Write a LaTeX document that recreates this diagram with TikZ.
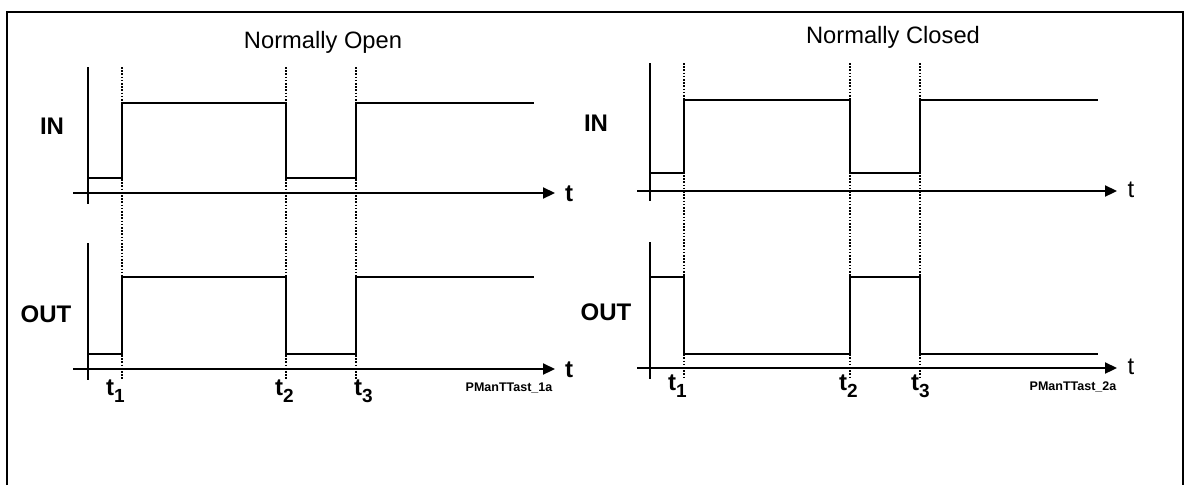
\documentclass[tikz,border=0pt]{standalone}
\usepackage{fontspec}
\setmainfont{Liberation Sans}
\usetikzlibrary{arrows.meta}

\newcommand{\tsub}[1]{t\raisebox{-7pt}{\fontsize{19}{19}\selectfont #1}}

\tikzset{
  frame/.style={line width=1.6pt},
  axis/.style={line width=2.2pt},
  timeaxis/.style={line width=2.2pt, -{Triangle[length=12pt,width=11pt]}},
  signal/.style={line width=1.8pt},
  marker/.style={line width=1.6pt, dash pattern=on 1.6pt off 1.6pt},
  title/.style={font=\fontsize{23.7}{25}\selectfont},
  signame/.style={font=\fontsize{24}{25}\selectfont\bfseries},
  tick/.style={font=\fontsize{24}{25}\selectfont\bfseries, inner sep=0pt, anchor=base west},
  tname/.style={font=\fontsize{24}{25}\selectfont, inner sep=0pt},
  figid/.style={font=\fontsize{12.5}{13}\selectfont\bfseries, inner sep=0pt}
}

\begin{document}
\begin{tikzpicture}[x=1pt,y=-1pt]
  \useasboundingbox (0,0) rectangle (1188,485);
  \draw[frame] (7,485) -- (7,12) -- (1183,12) -- (1183,485);

  % Normally Open
  \node[title] (titleNO) at (323,42) {Normally Open};
  \node[signame] (inNO) at (52,126) {IN};
  \node[signame] (outNO) at (46,314) {OUT};
  \draw[axis] (88,67) -- (88,204);
  \draw[axis] (88,243) -- (88,380);
  \draw[timeaxis] (73,193) -- (555,193);
  \draw[timeaxis] (73,369) -- (555,369);
  \node[signame, inner sep=0pt] (tinNO) at (569,194) {t};
  \node[signame, inner sep=0pt] (toutNO) at (569,370) {t};
  \foreach \x/\lx/\n in {122/106/1, 286/275/2, 356/354/3} {
    \draw[marker] (\x,67) -- (\x,380);
    \node[tick] (tNO\n) at (\lx,395) {\tsub{\n}};
  }
  \draw[signal] (88,178) -- (122,178) -- (122,103) -- (286,103) -- (286,178)
    -- (356,178) -- (356,103) -- (534,103);
  \draw[signal] (88,354) -- (122,354) -- (122,277) -- (286,277) -- (286,354)
    -- (356,354) -- (356,277) -- (534,277);
  \node[figid] (idNO) at (509,388) {PManTTast\_1a};

  % Normally Closed
  \node[title] (titleNC) at (893,37) {Normally Closed};
  \node[signame] (inNC) at (596,123) {IN};
  \node[signame] (outNC) at (606,312) {OUT};
  \draw[axis] (650,63) -- (650,201);
  \draw[axis] (650,242) -- (650,379);
  \draw[timeaxis] (637,191) -- (1117,191);
  \draw[timeaxis] (637,368) -- (1117,368);
  \node[tname] (tinNC) at (1131,190) {t};
  \node[tname] (toutNC) at (1131,367) {t};
  \foreach \x/\lx/\n in {684/668/1, 850/839/2, 920/911/3} {
    \draw[marker] (\x,63) -- (\x,378);
    \node[tick] (tNC\n) at (\lx,390) {\tsub{\n}};
  }
  \draw[signal] (650,173) -- (684,173) -- (684,100) -- (850,100) -- (850,173)
    -- (920,173) -- (920,100) -- (1098,100);
  \draw[signal] (650,277) -- (684,277) -- (684,354) -- (850,354) -- (850,277)
    -- (920,277) -- (920,354) -- (1098,354);
  \node[figid] (idNC) at (1073,387) {PManTTast\_2a};
\end{tikzpicture}
\end{document}
